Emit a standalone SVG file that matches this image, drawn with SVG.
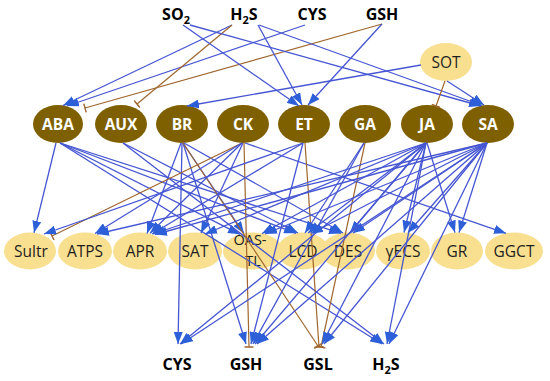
<svg xmlns="http://www.w3.org/2000/svg" width="550" height="381" viewBox="0 0 550 381">
<style>
.h{fill:#7F6000;}
.e{fill:#F9DF90;}
.ht{font-family:"Open Sans","Liberation Sans",sans-serif;font-weight:bold;font-size:15.5px;fill:#ffffff;text-anchor:middle;}
.et{font-family:"Open Sans","Liberation Sans",sans-serif;font-size:15.5px;fill:#1e1e1e;text-anchor:middle;}
.et2{font-family:"Open Sans","Liberation Sans",sans-serif;font-size:14.5px;fill:#1e1e1e;text-anchor:middle;}
.mt{font-family:"Open Sans","Liberation Sans",sans-serif;font-weight:bold;font-size:16px;fill:#000000;text-anchor:middle;}
.a{stroke:#4656D2;stroke-width:1.3;fill:none;marker-end:url(#arr);}
.i{stroke:#A0662E;stroke-width:1.2;fill:none;marker-end:url(#inh);}
</style>
<defs>
<marker id="arr" viewBox="0 0 12 9" refX="12" refY="4.5" markerWidth="12" markerHeight="9" markerUnits="userSpaceOnUse" orient="auto"><path d="M0,0 L12,4.5 L0,9 z" fill="#2D60D8"/></marker>
<marker id="inh" viewBox="-1 -5 2 10" refX="0" refY="0" markerWidth="2" markerHeight="10" markerUnits="userSpaceOnUse" orient="auto"><path d="M0,-4.5 L0,4.5" stroke="#A0662E" stroke-width="1.5"/></marker>
</defs>
<rect width="550" height="381" fill="#ffffff"/>

<g id="src-SO2"><text class="mt" x="176" y="20">SO<tspan font-size="11" dy="4">2</tspan></text></g>
<g id="src-H2S"><text class="mt" x="244" y="20">H<tspan font-size="11" dy="4">2</tspan><tspan dy="-4">S</tspan></text></g>
<g id="src-CYS"><text class="mt" x="312" y="20">CYS</text></g>
<g id="src-GSH"><text class="mt" x="382" y="20">GSH</text></g>

<g id="SOT"><ellipse class="e" cx="446" cy="62" rx="26" ry="19"/><text class="et" x="446" y="67.5">SOT</text></g>

<g id="ABA"><ellipse class="h" cx="58" cy="124" rx="25" ry="19"/><text class="ht" x="58" y="129.5">ABA</text></g>
<g id="AUX"><ellipse class="h" cx="121" cy="124" rx="26" ry="19"/><text class="ht" x="121" y="129.5">AUX</text></g>
<g id="BR"><ellipse class="h" cx="182" cy="124" rx="26" ry="19"/><text class="ht" x="182" y="129.5">BR</text></g>
<g id="CK"><ellipse class="h" cx="243" cy="124" rx="26" ry="19"/><text class="ht" x="243" y="129.5">CK</text></g>
<g id="ET"><ellipse class="h" cx="304" cy="124" rx="26" ry="19"/><text class="ht" x="304" y="129.5">ET</text></g>
<g id="GA"><ellipse class="h" cx="365" cy="124" rx="26" ry="19"/><text class="ht" x="365" y="129.5">GA</text></g>
<g id="JA"><ellipse class="h" cx="427" cy="124" rx="26" ry="19"/><text class="ht" x="427" y="129.5">JA</text></g>
<g id="SA"><ellipse class="h" cx="488" cy="124" rx="26" ry="19"/><text class="ht" x="488" y="129.5">SA</text></g>

<g id="Sultr"><ellipse class="e" cx="30" cy="251" rx="26" ry="18.5"/><text class="et" x="31" y="256.5">Sultr</text></g>
<g id="ATPS"><ellipse class="e" cx="85" cy="251" rx="27" ry="18.5"/><text class="et" x="85" y="256.5">ATPS</text></g>
<g id="APR"><ellipse class="e" cx="140" cy="251" rx="27" ry="18.5"/><text class="et" x="140" y="256.5">APR</text></g>
<g id="SAT"><ellipse class="e" cx="195" cy="251" rx="27" ry="18.5"/><text class="et" x="195" y="256.5">SAT</text></g>
<g id="OAS-TL"><ellipse class="e" cx="253" cy="251" rx="30" ry="18.5"/><text class="et2" x="250" y="245">OAS-</text><text class="et2" x="253" y="266">TL</text></g>
<g id="LCD"><ellipse class="e" cx="303" cy="251" rx="26" ry="18.5"/><text class="et" x="303" y="256.5">LCD</text></g>
<g id="DES"><ellipse class="e" cx="348" cy="251" rx="27" ry="18.5"/><text class="et" x="348" y="256.5">DES</text></g>
<g id="gECS"><ellipse class="e" cx="403" cy="251" rx="27" ry="18.5"/><text class="et" x="403" y="256.5">γECS</text></g>
<g id="GR"><ellipse class="e" cx="457" cy="251" rx="26" ry="18.5"/><text class="et" x="457" y="256.5">GR</text></g>
<g id="GGCT"><ellipse class="e" cx="514" cy="251" rx="29" ry="18.5"/><text class="et" x="514" y="256.5">GGCT</text></g>

<g id="out-CYS"><text class="mt" x="177" y="370">CYS</text></g>
<g id="out-GSH"><text class="mt" x="246" y="370">GSH</text></g>
<g id="out-GSL"><text class="mt" x="318" y="370">GSL</text></g>
<g id="out-H2S"><text class="mt" x="386" y="370">H<tspan font-size="11" dy="4">2</tspan><tspan dy="-4">S</tspan></text></g>

<g id="connectors">
<line class="a" x1="232" y1="25" x2="63" y2="105.5"/>
<line class="a" x1="305" y1="25" x2="67" y2="106"/>
<line class="i" x1="382" y1="24" x2="85" y2="108"/>
<line class="i" x1="232" y1="25" x2="137" y2="104"/>
<line class="a" x1="183" y1="25" x2="299" y2="106"/>
<line class="a" x1="258" y1="25" x2="302" y2="105"/>
<line class="a" x1="382" y1="24" x2="308" y2="105"/>
<line class="a" x1="190" y1="25" x2="481" y2="106"/>
<line class="a" x1="259" y1="25" x2="482" y2="105.5"/>
<line class="a" x1="421" y1="65" x2="187" y2="106"/>
<line class="i" x1="445" y1="81" x2="436" y2="106"/>
<line class="a" x1="447" y1="81" x2="484" y2="105"/>
<line class="a" x1="56" y1="143" x2="34" y2="232.8"/>
<line class="a" x1="60" y1="143" x2="240" y2="234.3"/>
<line class="a" x1="60" y1="143" x2="296" y2="233.3"/>
<line class="a" x1="60" y1="143" x2="341" y2="233.4"/>
<line class="a" x1="60" y1="143" x2="382" y2="344"/>
<line class="a" x1="123" y1="143" x2="298" y2="233"/>
<line class="a" x1="123" y1="143" x2="384" y2="344"/>
<line class="a" x1="181" y1="143" x2="147" y2="233.5"/>
<line class="a" x1="182" y1="143" x2="178" y2="344"/>
<line class="a" x1="183" y1="143" x2="244" y2="233.5"/>
<line class="a" x1="183" y1="143" x2="246" y2="344"/>
<line class="i" x1="183" y1="143" x2="318" y2="346"/>
<line class="a" x1="184" y1="143" x2="343" y2="233"/>
<line class="i" x1="242" y1="143" x2="52" y2="236"/>
<line class="a" x1="242" y1="143" x2="95" y2="233.5"/>
<line class="a" x1="242" y1="143" x2="150" y2="233.3"/>
<line class="a" x1="243" y1="143" x2="201" y2="233"/>
<line class="i" x1="244" y1="143" x2="249" y2="347"/>
<line class="a" x1="245" y1="143" x2="506" y2="233.3"/>
<line class="a" x1="303" y1="143" x2="44" y2="234"/>
<line class="a" x1="303" y1="143" x2="152" y2="234"/>
<line class="a" x1="303" y1="143" x2="251" y2="344"/>
<line class="i" x1="305" y1="143" x2="319" y2="347"/>
<line class="i" x1="365" y1="143" x2="321" y2="347"/>
<line class="a" x1="364" y1="143" x2="253" y2="344"/>
<line class="a" x1="364" y1="143" x2="305" y2="233"/>
<line class="a" x1="426" y1="143" x2="205" y2="234"/>
<line class="a" x1="426" y1="143" x2="153" y2="234"/>
<line class="a" x1="426" y1="143" x2="262" y2="233.5"/>
<line class="a" x1="426" y1="143" x2="308" y2="233"/>
<line class="a" x1="426" y1="143" x2="350" y2="232.8"/>
<line class="a" x1="426" y1="143" x2="404" y2="232.5"/>
<line class="a" x1="427" y1="143" x2="455" y2="232.6"/>
<line class="a" x1="426" y1="143" x2="180" y2="344"/>
<line class="a" x1="426" y1="143" x2="255" y2="344"/>
<line class="a" x1="426" y1="143" x2="322" y2="344"/>
<line class="a" x1="426" y1="143" x2="387" y2="344"/>
<line class="a" x1="487" y1="143" x2="97" y2="234"/>
<line class="a" x1="487" y1="143" x2="155" y2="234.5"/>
<line class="a" x1="487" y1="143" x2="265" y2="234"/>
<line class="a" x1="487" y1="143" x2="311" y2="233.5"/>
<line class="a" x1="487" y1="143" x2="353" y2="233"/>
<line class="a" x1="487" y1="143" x2="408" y2="232.7"/>
<line class="a" x1="487" y1="143" x2="459" y2="232.6"/>
<line class="a" x1="487" y1="143" x2="181" y2="344"/>
<line class="a" x1="487" y1="143" x2="257" y2="344"/>
<line class="a" x1="487" y1="143" x2="324" y2="344"/>
<line class="a" x1="487" y1="143" x2="389" y2="344"/>
</g>
</svg>
